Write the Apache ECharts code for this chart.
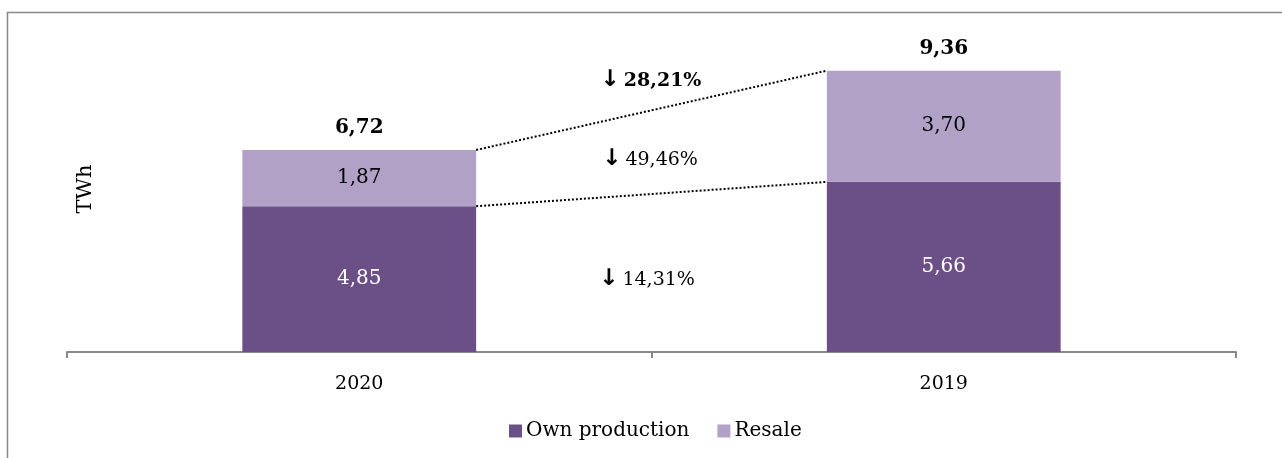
<!DOCTYPE html>
<html>
<head>
<meta charset="utf-8">
<script src="https://cdn.jsdelivr.net/npm/echarts@6/dist/echarts.min.js"></script>
<style>
html,body{margin:0;padding:0;background:#fff;}
#chart{width:1282px;height:458px;}
</style>
</head>
<body>
<div id="chart"></div>
<script>
var categories = ['2020', '2019'];
var ownProduction = [4.85, 5.66];
var resale = [1.87, 3.70];
var totals = [6.72, 9.36];
var seriesNames = ['Own production', 'Resale'];

function fmt(v) { return v.toFixed(2).replace('.', ','); }
function pct(a, b) { return fmt(Math.abs((a - b) / b * 100)) + '%'; }

var FONT = 'DejaVu Serif';
var chart = echarts.init(document.getElementById('chart'), null, {renderer: 'canvas'});

var barHalf = 0.2; // bar width = 40% of category
function arrowText(x, y, txt, bold) {
  return {
    type: 'text', x: x, y: y,
    style: {
      text: '{a|\u2193}{t|' + txt + '}',
      align: 'center', verticalAlign: 'middle',
      rich: {
        a: {fontFamily: 'DejaVu Sans', fontWeight: 'bold', fontSize: 23, fill: '#000', padding: [0, 4, 2, 0]},
        t: {fontFamily: FONT, fontWeight: bold ? 'bold' : 'normal', fontSize: 19, fill: '#000'}
      }
    }
  };
}
var option = {
  animation: false,
  backgroundColor: '#fff',
  textStyle: {fontFamily: FONT},
  grid: {left: 67, right: 46, top: 51.4, bottom: 106},
  legend: {
    data: seriesNames,
    left: 504, top: 416,
    itemWidth: 13, itemHeight: 13, itemGap: 28,
    icon: 'rect',
    textStyle: {fontFamily: FONT, fontSize: 20, color: '#000', padding: [0, 0, 0, -1]}
  },
  xAxis: [{
    type: 'category',
    data: categories,
    axisLine: {lineStyle: {color: '#888', width: 2}},
    axisTick: {show: true, length: 6, lineStyle: {color: '#888', width: 2}},
    axisLabel: {fontFamily: FONT, fontSize: 19, color: '#000', margin: 23}
  }, {
    type: 'value', min: 0, max: 2, show: false
  }],
  yAxis: {
    type: 'value', min: 0, max: 10, show: false,
    splitLine: {show: false}
  },
  series: [{
    name: seriesNames[0],
    type: 'bar', stack: 'total', barWidth: '40%',
    data: ownProduction,
    itemStyle: {color: '#6A5087'},
    label: {show: true, position: 'inside', color: '#fff', fontFamily: FONT, fontSize: 20,
      formatter: function (p) { return fmt(p.value); }}
  }, {
    name: seriesNames[1],
    type: 'bar', stack: 'total', barWidth: '40%',
    data: resale,
    itemStyle: {color: '#B2A1C7'},
    label: {show: true, position: 'inside', color: '#000', fontFamily: FONT, fontSize: 20,
      formatter: function (p) { return fmt(p.value); }}
  }, {
    name: 'totals',
    type: 'bar', stack: 'total', barWidth: '40%',
    data: [0, 0],
    itemStyle: {color: 'transparent'},
    label: {show: true, position: 'top', distance: 12, color: '#000', fontFamily: FONT, fontSize: 20, fontWeight: 'bold',
      formatter: function (p) { return fmt(totals[p.dataIndex]); }}
  }, {
    name: 'topLine', type: 'line', xAxisIndex: 1, symbol: 'none', silent: true,
    data: [[0.5 + barHalf, totals[0]], [1.5 - barHalf, totals[1]]],
    lineStyle: {type: 'dotted', color: '#000', width: 2}
  }, {
    name: 'midLine', type: 'line', xAxisIndex: 1, symbol: 'none', silent: true,
    data: [[0.5 + barHalf, ownProduction[0]], [1.5 - barHalf, ownProduction[1]]],
    lineStyle: {type: 'dotted', color: '#000', width: 2}
  }],
  graphic: [{
    type: 'rect', shape: {x: 7.5, y: 12.5, width: 1400, height: 600},
    style: {fill: 'none', stroke: '#888', lineWidth: 1.5}, silent: true
  }, {
    type: 'text', x: 86, y: 189, rotation: Math.PI / 2, origin: [0, 0],
    style: {text: 'TWh', font: '21px "DejaVu Serif"', fill: '#000', align: 'center', verticalAlign: 'middle'}
  },
    arrowText(651, 81, pct(totals[0], totals[1]), true),
    arrowText(650, 160, pct(resale[0], resale[1]), false),
    arrowText(647, 280, pct(ownProduction[0], ownProduction[1]), false)
  ]
};
chart.setOption(option);
</script>
</body>
</html>
